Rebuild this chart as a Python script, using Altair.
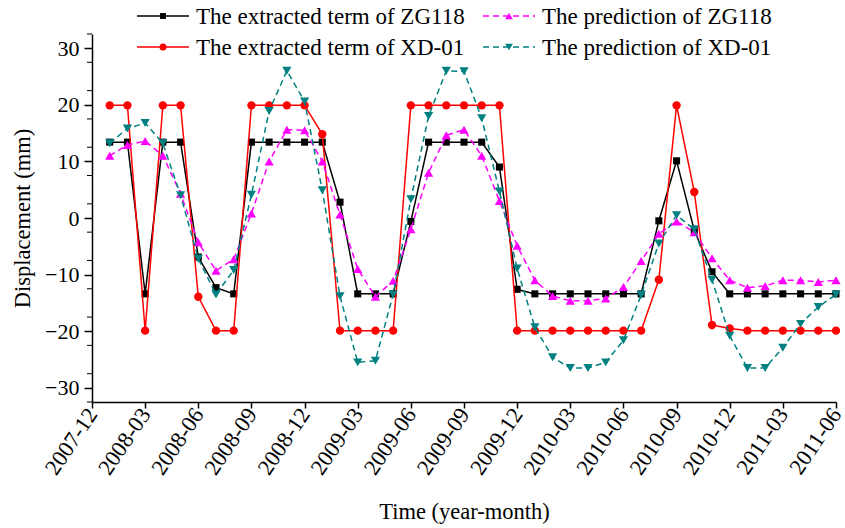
import json
import altair as alt
import pandas as pd

# Monthly observations, 2008-01 .. 2011-06
months = [f"{y}-{m:02d}" for y in range(2008, 2012) for m in range(1, 13)][:42]

# Axis tick labels every three months, starting at 2007-12
tick_labels = ["2007-12", "2008-03", "2008-06", "2008-09", "2008-12",
               "2009-03", "2009-06", "2009-09", "2009-12", "2010-03",
               "2010-06", "2010-09", "2010-12", "2011-03", "2011-06"]

# Displacement (mm)
zg118_extracted = [13.4, 13.4, -13.4, 13.4, 13.4, -6.9, -12.3, -13.4,
                   13.4, 13.4, 13.4, 13.4, 13.4, 2.8, -13.4, -13.4, -13.4,
                   -0.6, 13.4, 13.4, 13.4, 13.4, 9.0, -12.6, -13.4, -13.4,
                   -13.4, -13.4, -13.4, -13.4, -13.4, -0.5, 10.1, -2.2, -9.5,
                   -13.4, -13.4, -13.4, -13.4, -13.4, -13.4, -13.4]
xd01_extracted = [19.9, 19.9, -19.9, 19.9, 19.9, -13.9, -19.9, -19.9,
                  19.9, 19.9, 19.9, 19.9, 14.8, -19.9, -19.9, -19.9, -19.9,
                  19.9, 19.9, 19.9, 19.9, 19.9, 19.9, -19.9, -19.9, -19.9,
                  -19.9, -19.9, -19.9, -19.9, -19.9, -10.9, 19.9, 4.6, -18.9,
                  -19.5, -19.9, -19.9, -19.9, -19.9, -19.9, -19.9]
zg118_prediction = [11.0, 12.9, 13.6, 11.0, 4.3, -4.3, -9.3, -7.3, 0.8,
                    10.0, 15.6, 15.5, 10.0, 0.6, -9.0, -13.9, -11.1, -2.0,
                    8.0, 14.6, 15.6, 11.0, 3.0, -4.9, -11.0, -13.8, -14.6,
                    -14.6, -14.2, -12.2, -7.6, -2.8, -0.6, -2.5, -7.1, -11.0,
                    -12.3, -12.0, -11.0, -11.0, -11.3, -11.0]
xd01_prediction = [13.2, 15.8, 16.8, 13.2, 4.0, -7.2, -13.5, -9.2, 4.1,
                   18.9, 26.0, 20.6, 4.9, -13.8, -25.5, -25.2, -13.5, 3.3,
                   18.0, 26.0, 25.9, 17.6, 4.7, -8.9, -19.3, -24.6, -26.5,
                   -26.5, -25.5, -21.6, -13.6, -4.5, 0.5, -2.0, -10.9, -20.8,
                   -26.5, -26.5, -22.9, -18.7, -15.7, -13.5]

series = [
    ("The extracted term of ZG118", zg118_extracted),
    ("The extracted term of XD-01", xd01_extracted),
    ("The prediction of ZG118", zg118_prediction),
    ("The prediction of XD-01", xd01_prediction),
]

# Visual style of each series: colour, dash, marker, marker size
styles = {
    "The extracted term of ZG118": ("#000000", [1, 0], "square", 50),
    "The extracted term of XD-01": ("#ff0000", [1, 0], "circle", 70),
    "The prediction of ZG118": ("#ff00ff", [6, 4], "triangle-up", 85),
    "The prediction of XD-01": ("#008080", [6, 4], "triangle-down", 85),
}

rows = []
for name, values in series:
    for i, (m, v) in enumerate(zip(months, values)):
        rows.append({"series": name, "month": m, "t": i + 1, "value": v})
df = pd.DataFrame(rows)

FONT = "Liberation Serif"
W, H = 744, 368

label_expr = f"{json.dumps(tick_labels)}[round(datum.value / 3)]"

x_enc = alt.X(
    "t:Q",
    scale=alt.Scale(domain=[0, 42], nice=False, zero=False),
    axis=alt.Axis(
        values=list(range(0, 43, 3)),
        labelExpr=label_expr,
        labelAngle=-56,
        labelAlign="right",
        labelBaseline="middle",
        labelPadding=2,
        labelOverlap=False,
        labelFontSize=22.5,
        tickSize=6,
        title="Time (year-month)",
        titlePadding=22,
    ),
)
y_enc = alt.Y(
    "value:Q",
    scale=alt.Scale(domain=[-32.5, 32.5], nice=False, zero=False),
    axis=alt.Axis(
        values=list(range(-30, 31, 5)),
        tickSize=8,
        labelPadding=5,
        labelFontSize=22,
        title="Displacement (mm)",
        titlePadding=10,
    ),
)

layers = []
for name, _ in series:
    color, dash, shape, size = styles[name]
    sub = df[df["series"] == name]
    line = alt.Chart(sub).mark_line(
        color=color, strokeDash=dash, strokeWidth=1.5
    ).encode(x=x_enc, y=y_enc)
    pts = alt.Chart(sub).mark_point(
        shape=shape, filled=True, size=size, color=color, opacity=1
    ).encode(x="t:Q", y="value:Q")
    layers += [line, pts]

# Minor ticks on the displacement axis
minor_ticks = [v + 2.5 for v in range(-35, 31, 5)]
minor = alt.Chart(pd.DataFrame({"value": minor_ticks})).mark_rule(
    color="black", strokeWidth=1
).encode(x=alt.value(-5), x2=alt.value(0), y="value:Q")
layers.append(minor)

# Two-column legend above the plot
legend_slots = [
    ("The extracted term of ZG118", 45, -18),
    ("The prediction of ZG118", 391, -18),
    ("The extracted term of XD-01", 45, 13),
    ("The prediction of XD-01", 391, 13),
]
one = alt.Data(values=[{"k": 0}])
for name, lx, ly in legend_slots:
    color, dash, shape, size = styles[name]
    layers.append(
        alt.Chart(one).mark_rule(color=color, strokeDash=dash, strokeWidth=1.5)
        .encode(x=alt.value(lx), x2=alt.value(lx + 52), y=alt.value(ly))
    )
    layers.append(
        alt.Chart(one).mark_point(shape=shape, filled=True, size=size * 0.7,
                                  color=color, opacity=1)
        .encode(x=alt.value(lx + 26), y=alt.value(ly))
    )
    layers.append(
        alt.Chart(one).mark_text(align="left", baseline="middle", font=FONT,
                                 fontSize=23, color="black")
        .encode(x=alt.value(lx + 59), y=alt.value(ly + 1), text=alt.value(name))
    )

chart = alt.layer(*layers).properties(
    width=W,
    height=H,
    autosize=alt.AutoSizeParams(type="none"),
    padding={"left": 92, "top": 34, "right": 9, "bottom": 126},
).configure_view(stroke=None).configure_axis(
    grid=False,
    labelFont=FONT,
    titleFont=FONT,
    titleFontSize=22.5,
    titleFontWeight="normal",
    labelColor="black",
    titleColor="black",
    domainColor="black",
    tickColor="black",
    domainWidth=1.5,
    tickWidth=1.5,
)

chart.save("out.html", embed_options={"renderer": "svg", "actions": False})
